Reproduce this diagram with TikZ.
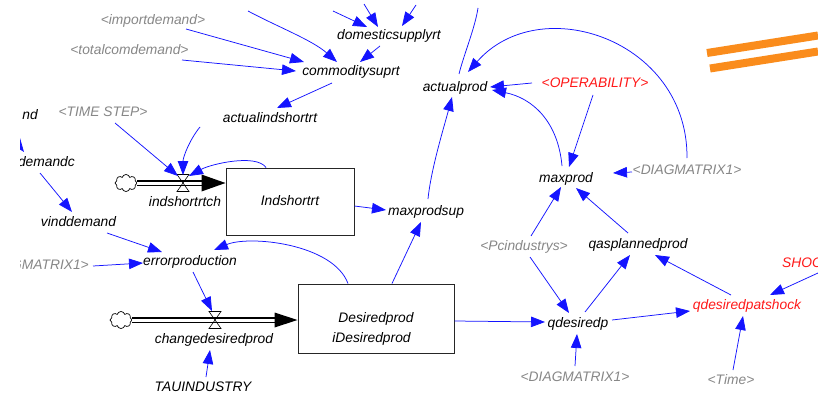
\documentclass[tikz,border=0pt]{standalone}
\usepackage{fontspec}
\setmainfont{Liberation Sans}
\usetikzlibrary{arrows.meta,shapes.symbols,calc}
\definecolor{conblue}{RGB}{20,20,255}
\definecolor{shadowgray}{RGB}{135,135,135}
\definecolor{vred}{RGB}{255,25,25}
\definecolor{vorange}{RGB}{250,140,28}
\tikzset{
  var/.style={font=\fontsize{13.8}{16}\selectfont\itshape, inner sep=0pt, text height=11.8pt, text depth=2.9pt, text=black},
  shadowvar/.style={var, text=shadowgray},
  redvar/.style={var, text=vred},
  conn/.style={draw=conblue, line width=0.75pt, -{Triangle[length=14pt,width=10.5pt]}},
  plainconn/.style={draw=conblue, line width=0.75pt},
  stock/.style={draw=black!85, line width=1pt, fill=white},
  pipe/.style={draw=black, line width=1.1pt, double=white, double distance=3pt},
  valvetri/.style={draw=black, line width=0.6pt},
  cloudsym/.style={cloud, draw=black, line width=0.7pt, cloud puffs=8, aspect=1.3, minimum width=22pt, minimum height=17pt, inner sep=0pt},
  orangebar/.style={draw=vorange, line width=8pt},
  flowhead/.style={fill=black},
}
\begin{document}
\begin{tikzpicture}[x=1pt,y=-1pt]
\useasboundingbox (0,0) rectangle (818,396);
\fill[white] (0,0) rectangle (818,396);
\begin{scope}
\clip (0,0) rectangle (818,396);

% ---------- orange bars ----------
\draw[orangebar] (707,53) -- (818,35.5);
\draw[orangebar] (710,68.5) -- (818,51.5);

% ---------- stocks ----------
\node[stock, minimum width=128pt, minimum height=67pt] (indbox) at (290,201.5) {};
\node[var] (indlbl) at (290,201.5) {Indshortrt};
\node[stock, minimum width=156pt, minimum height=69pt] (desbox) at (376,318.5) {};
\node[var] (deslbl) at (376,318) {Desiredprod};
\node[var] (desinit) at (371.5,338) {iDesiredprod};

% ---------- clouds, valves ----------
\node[cloudsym] (c1) at (126,183) {};
\node[cloudsym] (c2) at (121,320) {};
\coordinate (v1) at (183,183);
\coordinate (v2) at (215,320);
\coordinate (p1end) at (indbox.west |- v1);
\coordinate (p2end) at (desbox.west |- v2);

\draw[pipe] (c1.east) -- ($(p1end)+(-23,0)$);
\fill[flowhead] (p1end) -- ++(-24,-8.5) -- ++(0,17) -- cycle;
\draw[pipe] (c2.east) -- ($(p2end)+(-22,0)$);
\fill[flowhead] (p2end) -- ++(-23,-7.5) -- ++(0,15) -- cycle;

\draw[valvetri, shift={(v1)}] (-6,-8.5) -- (6,-8.5) -- (0,0) -- cycle (-6,8.5) -- (6,8.5) -- (0,0) -- cycle;
\draw[valvetri, shift={(v2)}] (-6,-8.5) -- (6,-8.5) -- (0,0) -- cycle (-6,8.5) -- (6,8.5) -- (0,0) -- cycle;

% ---------- variables ----------
\node[shadowvar] (imp) at (153,20) {<importdemand>};
\node[shadowvar] (tot) at (129.5,50) {<totalcomdemand>};
\node[var] (dom) at (389,35) {domesticsupplyrt};
\node[var] (com) at (351,71) {commoditysuprt};
\node[var] (ais) at (270,118) {actualindshortrt};
\node[shadowvar] (ts) at (103,112) {<TIME STEP>};
\node[var] (vin) at (78.5,222) {vinddemand};
\node[var] (ish) at (185,202) {indshortrtch};
\node[var] (err) at (190,261) {errorproduction};
\node[var] (cdp) at (214,339) {changedesiredprod};
\node[var] (tau) at (203,387) {TAUINDUSTRY};
\node[var] (mps) at (426,211) {maxprodsup};
\node[var] (act) at (455,87) {actualprod};
\node[redvar] (ope) at (595,83) {<OPERABILITY>};
\node[var] (mxp) at (566,178) {maxprod};
\node[shadowvar] (dg1) at (687,170) {<DIAGMATRIX1>};
\node[var] (qas) at (638,244) {qasplannedprod};
\node[shadowvar] (pci) at (524,246) {<Pcindustrys>};
\node[var] (qdp) at (578,323) {qdesiredp};
\node[redvar] (qds) at (747,305) {qdesiredpatshock};
\node[shadowvar] (dg2) at (575,377) {<DIAGMATRIX1>};
\node[shadowvar] (tim) at (731,380) {<Time>};
\node[redvar, anchor=west] (shc) at (782,263) {SHOC};

\coordinate (ext1) at (248,11);
\coordinate (ext2) at (333,11);
\coordinate (ext3) at (364,4);
\coordinate (ext4) at (416,5);
\coordinate (ext5) at (12,136);
\coordinate (ext6) at (478,8);

% ---------- left, cut-off part ----------
\begin{scope}
\clip (20,0) rectangle (818,396);
\node[var, anchor=east] (ndx) at (38,115) {nd};
\node[var, anchor=east] (dmc) at (75,162) {demandc};
\node[shadowvar, anchor=east] (gmx) at (89,265) {GMATRIX1>};
\draw[conn] (ext5) -- ([shift={(-51,-10)}]dmc.east);
\end{scope}

% ---------- connectors ----------
\draw[conn] (ext1) .. controls +(30,16) and +(-25,-22) .. ([shift={(-14,-9)}]com.center);
\draw[conn] ([shift={(33,9)}]imp.center) -- ([shift={(-47,-9)}]com.center);
\draw[conn] ([shift={(52.5,10)}]tot.center) -- ([shift={(-55,0)}]com.center);
\draw[conn] (ext2) -- ([shift={(-22,-8)}]dom.center);
\draw[conn] (ext3) -- ([shift={(-11,-8)}]dom.center);
\draw[conn] (ext4) -- ([shift={(13,-9)}]dom.center);
\draw[conn] ([shift={(-9,11)}]dom.center) -- ([shift={(9,-9)}]com.center);
\draw[conn] ([shift={(-19,12)}]com.center) -- ([shift={(7,-10)}]ais.center);
\draw[conn] ([shift={(12,11)}]ts.center) -- ([shift={(-5,-7)}]v1);
\draw[conn] ([shift={(-70,9)}]ais.center) .. controls +(-10,12) and +(0,-18) .. ([shift={(0,-8)}]v1);
\draw[conn] ([shift={(-24,0)}]indbox.north) .. controls +(-10,-14) and +(22,-12) .. ([shift={(6,-7)}]v1);
\draw[conn] ([shift={(0,4.5)}]indbox.east) -- ([shift={(-40,-1)}]mps.center);
\draw[conn] ([shift={(2,-12)}]mps.center) .. controls +(3,-30) and +(-8,30) .. ([shift={(-3,10)}]act.center);
\draw[conn] ([shift={(16,0)}]desbox.north) -- ([shift={(-5,11)}]mps.center);
\draw[conn] ([shift={(-28,0)}]desbox.north) .. controls +(-15,-40) and +(35,-15) .. ([shift={(24,-11)}]err.center);
\draw[conn] ([shift={(28.5,11)}]vin.center) -- ([shift={(-28,-9)}]err.center);
\draw[conn] ([shift={(4,1)}]gmx.east) -- ([shift={(-47,2)}]err.center);
\draw[conn] ([shift={(-35,11)}]dmc.east) -- ([shift={(-6.5,-10)}]vin.center);
\draw[conn] ([shift={(3,11)}]err.center) -- ([shift={(-3,-9)}]v2);
\draw[conn] ([shift={(3,-10)}]tau.center) -- ([shift={(-4,11)}]cdp.center);
\draw[conn] ([shift={(0,2.5)}]desbox.east) -- ([shift={(-33,-1)}]qdp.center);
\draw[conn] ([shift={(7,-10)}]pci.center) -- ([shift={(-5,9)}]mxp.center);
\draw[conn] ([shift={(6,11)}]pci.center) -- ([shift={(-9,-10)}]qdp.center);
\draw[conn] ([shift={(7,-11)}]qdp.center) -- ([shift={(-8,11)}]qas.center);
\draw[conn] ([shift={(-16,-10)}]qds.center) -- ([shift={(17,11)}]qas.center);
\draw[conn] ([shift={(-10,-11)}]qas.center) -- ([shift={(10,10)}]mxp.center);
\draw[conn] ([shift={(-55,2)}]dg1.center) -- ([shift={(47,-5)}]mxp.center);
\draw[conn] ([shift={(-2,12)}]ope.center) -- ([shift={(3,-11)}]mxp.center);
\draw[conn] ([shift={(-63,0)}]ope.center) -- ([shift={(35,0)}]act.center);
\draw[conn] ([shift={(-4,-12)}]mxp.center) .. controls +(-4,-45) and +(40,8) .. ([shift={(37,3)}]act.center);
\draw[conn] ([shift={(0,-12)}]dg1.center) .. controls +(1,-118) and +(72,-82) .. ([shift={(13,-15)}]act.center);
\draw[plainconn] ([shift={(4,-13)}]act.center) .. controls +(5,-20) and +(-3,20) .. (ext6);
\draw[conn] ([shift={(34,-3)}]qdp.center) -- ([shift={(-57,6)}]qds.center);
\draw[conn] ([shift={(0,-11)}]dg2.center) -- ([shift={(-1,11)}]qdp.center);
\draw[conn] ([shift={(2,-10)}]tim.center) -- ([shift={(-4,11)}]qds.center);
\draw[conn] ([shift={(36,10)}]shc.west) -- ([shift={(23,-10)}]qds.center);
\end{scope}
\end{tikzpicture}
\end{document}
